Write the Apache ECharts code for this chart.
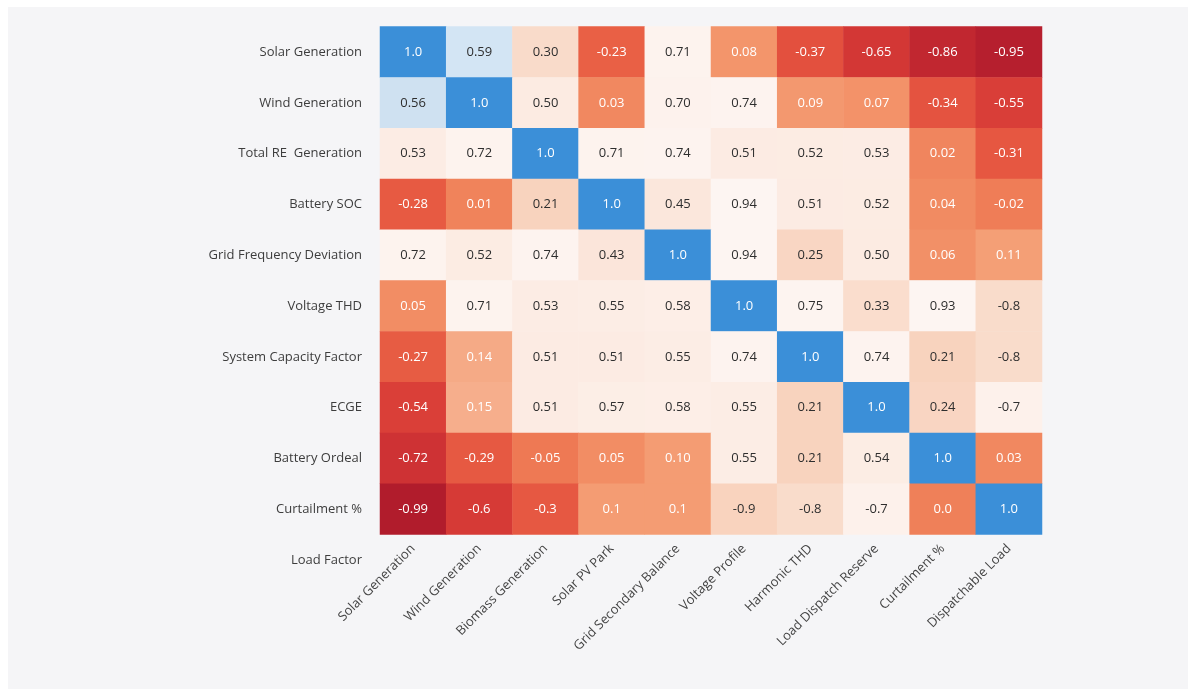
<!DOCTYPE html>
<html>
<head>
<meta charset="utf-8">
<title>Correlation Heatmap</title>
<script src="https://cdn.jsdelivr.net/npm/echarts@6/dist/echarts.min.js"></script>
<style>
  html, body { margin: 0; padding: 0; background: #ffffff; }
  #chart { position: absolute; left: 8px; top: 7px; width: 1180px; height: 682px; }
</style>
</head>
<body>
<div id="chart"></div>
<script>
// Row variables (the last one has no cells, only its label)
const rowLabels = [
  'Solar Generation', 'Wind Generation', 'Total RE  Generation', 'Battery SOC',
  'Grid Frequency Deviation', 'Voltage THD', 'System Capacity Factor', 'ECGE',
  'Battery Ordeal', 'Curtailment %', 'Load Factor'
];

// Column variables
const colLabels = [
  'Solar Generation', 'Wind Generation', 'Biomass Generation', 'Solar PV Park',
  'Grid Secondary Balance', 'Voltage Profile', 'Harmonic THD',
  'Load Dispatch Reserve', 'Curtailment %', 'Dispatchable Load'
];

// Correlation coefficients, one array per row, as printed in each cell
const solarGeneration   = ['1.0', '0.59', '0.30', '-0.23', '0.71', '0.08', '-0.37', '-0.65', '-0.86', '-0.95'];
const windGeneration    = ['0.56', '1.0', '0.50', '0.03', '0.70', '0.74', '0.09', '0.07', '-0.34', '-0.55'];
const totalReGeneration = ['0.53', '0.72', '1.0', '0.71', '0.74', '0.51', '0.52', '0.53', '0.02', '-0.31'];
const batterySoc        = ['-0.28', '0.01', '0.21', '1.0', '0.45', '0.94', '0.51', '0.52', '0.04', '-0.02'];
const gridFreqDeviation = ['0.72', '0.52', '0.74', '0.43', '1.0', '0.94', '0.25', '0.50', '0.06', '0.11'];
const voltageThd        = ['0.05', '0.71', '0.53', '0.55', '0.58', '1.0', '0.75', '0.33', '0.93', '-0.8'];
const systemCapFactor   = ['-0.27', '0.14', '0.51', '0.51', '0.55', '0.74', '1.0', '0.74', '0.21', '-0.8'];
const ecge              = ['-0.54', '0.15', '0.51', '0.57', '0.58', '0.55', '0.21', '1.0', '0.24', '-0.7'];
const batteryOrdeal     = ['-0.72', '-0.29', '-0.05', '0.05', '0.10', '0.55', '0.21', '0.54', '1.0', '0.03'];
const curtailment       = ['-0.99', '-0.6', '-0.3', '0.1', '0.1', '-0.9', '-0.8', '-0.7', '0.0', '1.0'];

const matrix = [
  solarGeneration, windGeneration, totalReGeneration, batterySoc, gridFreqDeviation,
  voltageThd, systemCapFactor, ecge, batteryOrdeal, curtailment
];

// ---- colour scale ---------------------------------------------------------
const BLUE = '#3b8fd8';
const special = {
  '1': BLUE,
  '0.59': '#d3e5f4',
  '0.56': '#cfe1f1',
  '-0.7': '#fdf1eb',
  '-0.8': '#f9dccb',
  '-0.9': '#f9d3be'
};
const stops = [
  [-1.00, '#b01b2c'], [-0.80, '#c82c32'], [-0.60, '#d63a36'], [-0.40, '#e24c3d'],
  [-0.20, '#ea6446'], [0.00, '#ef8059'], [0.08, '#f3956b'], [0.12, '#f4a27a'],
  [0.16, '#f6b292'], [0.20, '#f8d2bd'], [0.35, '#fadfd0'], [0.50, '#fcebe2'],
  [0.65, '#fdf1eb'], [0.80, '#fdf5f2'], [1.00, '#fdf5f2']
];
function hexToRgb(h) {
  return [parseInt(h.slice(1, 3), 16), parseInt(h.slice(3, 5), 16), parseInt(h.slice(5, 7), 16)];
}
function rgbToHex(c) {
  return '#' + c.map(v => Math.round(v).toString(16).padStart(2, '0')).join('');
}
function rampColor(v) {
  if (v <= stops[0][0]) return stops[0][1];
  for (let i = 1; i < stops.length; i++) {
    if (v <= stops[i][0]) {
      const [v0, c0] = stops[i - 1];
      const [v1, c1] = stops[i];
      const t = (v - v0) / (v1 - v0);
      const a = hexToRgb(c0), b = hexToRgb(c1);
      return rgbToHex(a.map((x, k) => x + (b[k] - x) * t));
    }
  }
  return stops[stops.length - 1][1];
}
function colorFor(v) {
  const key = String(Math.round(v * 100) / 100);
  return special[key] || rampColor(v);
}
function luminance(hex) {
  const [r, g, b] = hexToRgb(hex);
  return (0.299 * r + 0.587 * g + 0.114 * b) / 255;
}

// piecewise visual map: exact coefficients first, then a fine ramp
const pieces = [];
Object.keys(special).forEach(k => pieces.push({ value: Number(k), color: special[k] }));
for (let i = -100; i <= 99; i++) {
  const v = i / 100;
  pieces.push({ gte: v - 0.005, lt: v + 0.005, color: rampColor(v) });
}

// ---- series data ------------------------------------------------------------
const cells = [];
matrix.forEach((row, r) => {
  row.forEach((txt, c) => {
    const v = Number(txt);
    const dark = luminance(colorFor(v)) < 0.8;
    cells.push({
      value: [c, r, v, txt],
      label: { color: dark ? '#ffffff' : '#2e2e2e' }
    });
  });
});

const FONT = "'Open Sans', 'Noto Sans', 'DejaVu Sans', sans-serif";
const ROW_H = 50.8;

const chart = echarts.init(document.getElementById('chart'));
chart.setOption({
  backgroundColor: '#f5f5f7',
  animation: false,
  textStyle: { fontFamily: FONT },
  grid: {
    left: 372,
    top: 19.6,
    width: 662,
    height: ROW_H * rowLabels.length
  },
  xAxis: {
    type: 'category',
    data: colLabels,
    position: 'bottom',
    offset: -ROW_H,
    splitArea: { show: false },
    axisLine: { show: false },
    axisTick: { show: false },
    axisLabel: {
      rotate: 45,
      margin: 12,
      interval: 0,
      color: '#444444',
      fontSize: 13,
      fontFamily: FONT
    }
  },
  yAxis: {
    type: 'category',
    data: rowLabels,
    inverse: true,
    splitArea: { show: false },
    axisLine: { show: false },
    axisTick: { show: false },
    axisLabel: {
      margin: 18,
      interval: 0,
      color: '#3d3d3d',
      fontSize: 13,
      fontFamily: FONT
    }
  },
  visualMap: {
    type: 'piecewise',
    show: false,
    dimension: 2,
    seriesIndex: 0,
    pieces: pieces
  },
  series: [{
    type: 'heatmap',
    data: cells,
    itemStyle: { borderWidth: 0 },
    label: {
      show: true,
      fontSize: 13,
      fontFamily: FONT,
      formatter: p => p.data.value[3]
    },
    emphasis: { disabled: true }
  }]
});
</script>
</body>
</html>
